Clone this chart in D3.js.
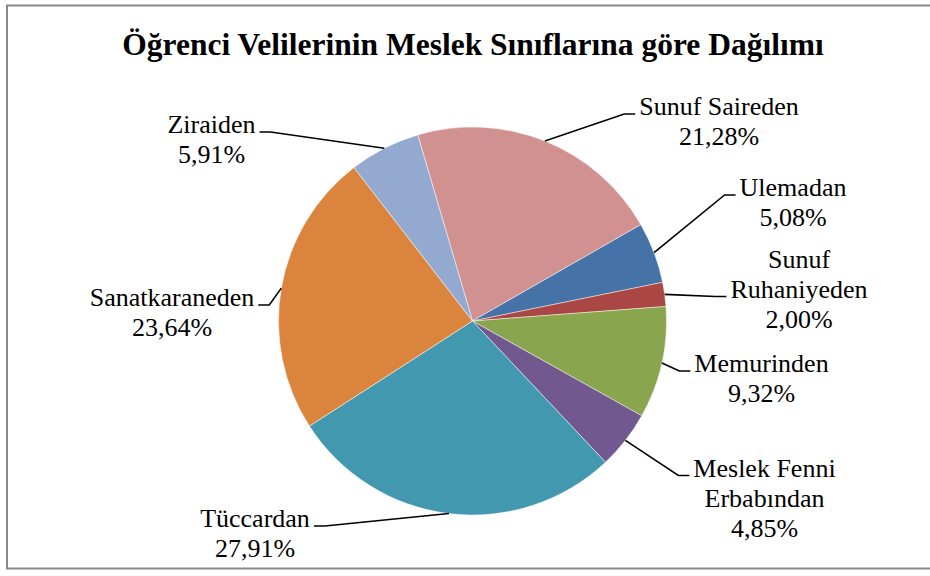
<!DOCTYPE html>
<html>
<head>
<meta charset="utf-8">
<script src="https://cdn.jsdelivr.net/npm/d3@7"></script>
<style>
  html, body { margin: 0; padding: 0; background: #fff; }
  svg { display: block; }
</style>
</head>
<body>
<svg id="chart" width="930" height="576"></svg>
<script>
// Occupational distribution of students' parents (percent)
const categories = [
  "Sunuf Saireden",
  "Ulemadan",
  "Sunuf Ruhaniyeden",
  "Memurinden",
  "Meslek Fenni Erbabından",
  "Tüccardan",
  "Sanatkaraneden",
  "Ziraiden"
];
const values = [21.28, 5.08, 2.00, 9.32, 4.85, 27.91, 23.64, 5.91];
const colors = ["#D29191", "#4572A7", "#AA4643", "#89A54E", "#71588F", "#4198AF", "#DB843D", "#93A9CF"];
const title = "Öğrenci Velilerinin Meslek Sınıflarına göre Dağılımı";

// Label placement: centre x, first baseline, side of the leader, line the leader attaches to, wrap width
const labelLayout = [
  { x: 719,   y: 115,   side: "left",  anchor: 0, wrap: 200 },
  { x: 793,   y: 196,   side: "left",  anchor: 0, wrap: 160 },
  { x: 799,   y: 267.5, side: "left",  anchor: 1, wrap: 150 },
  { x: 761.5, y: 372,   side: "left",  anchor: 0, wrap: 160 },
  { x: 764.5, y: 476.5, side: "left",  anchor: 0, wrap: 150 },
  { x: 255,   y: 527,   side: "right", anchor: 0, wrap: 160 },
  { x: 172,   y: 306,   side: "right", anchor: 0, wrap: 200 },
  { x: 211.5, y: 133,   side: "right", anchor: 0, wrap: 160 }
];

const W = 930, H = 576;
const cx = 472.5, cy = 321, R = 194;
const fontFamily = "'Liberation Serif', 'Times New Roman', serif";
const labelSize = 26, lineGap = 30;

const svg = d3.select("#chart");

// chart frame
svg.append("rect")
  .attr("x", 7).attr("y", 5.5)
  .attr("width", 940).attr("height", 563)
  .attr("fill", "#fff")
  .attr("stroke", "#888").attr("stroke-width", 2);

// title
svg.append("text")
  .attr("x", 473).attr("y", 55)
  .attr("text-anchor", "middle")
  .attr("font-family", fontFamily)
  .attr("font-weight", "bold")
  .attr("font-size", 31.5)
  .attr("fill", "#000")
  .text(title);

const data = categories.map((c, i) => ({ name: c, value: values[i], color: colors[i], layout: labelLayout[i] }));

const pie = d3.pie()
  .sort(null)
  .value(d => d.value)
  .startAngle(-16.4 * Math.PI / 180)
  .endAngle((360 - 16.4) * Math.PI / 180);

const arcs = pie(data);
const arc = d3.arc().innerRadius(0).outerRadius(R);

const g = svg.append("g").attr("transform", `translate(${cx},${cy})`);

g.selectAll("path.slice")
  .data(arcs)
  .join("path")
  .attr("class", "slice")
  .attr("d", arc)
  .attr("fill", d => d.data.color)
  .attr("stroke", "#fff")
  .attr("stroke-width", 0.6)
  .attr("stroke-opacity", 0.8);

const fmt = v => d3.format(".2f")(v).replace(".", ",") + "%";

// measuring helper for wrapping names
const measure = svg.append("text")
  .attr("font-family", fontFamily)
  .attr("font-size", labelSize)
  .attr("visibility", "hidden");
function textWidth(s) {
  measure.text(s);
  return measure.node().getComputedTextLength();
}
function wrap(name, maxW) {
  const words = name.split(" ");
  const lines = [];
  let cur = "";
  words.forEach(w => {
    const test = cur ? cur + " " + w : w;
    if (cur && textWidth(test) > maxW) { lines.push(cur); cur = w; }
    else cur = test;
  });
  if (cur) lines.push(cur);
  return lines;
}

const labels = svg.append("g");
const leaders = svg.append("g");

arcs.forEach(a => {
  const L = a.data.layout;
  const lines = wrap(a.data.name, L.wrap).concat([fmt(a.data.value)]);
  const t = labels.append("text")
    .attr("font-family", fontFamily)
    .attr("font-size", labelSize)
    .attr("fill", "#000")
    .attr("text-anchor", "middle");
  lines.forEach((ln, i) => {
    t.append("tspan").attr("x", L.x).attr("y", L.y + i * lineGap).text(ln);
  });

  // leader line: arc mid-angle point -> knee -> next to the label
  const mid = (a.startAngle + a.endAngle) / 2;
  const px = cx + R * Math.sin(mid);
  const py = cy - R * Math.cos(mid);
  const w = textWidth(lines[L.anchor]);
  const ly = L.y + L.anchor * lineGap - 1;
  const dir = L.side === "left" ? -1 : 1;
  const sx = L.x + dir * (w / 2 + 4);
  const kx = sx + dir * 11;
  leaders.append("path")
    .attr("d", d3.line()([[sx, ly], [kx, ly], [px, py]]))
    .attr("fill", "none")
    .attr("stroke", "#000")
    .attr("stroke-width", 1.6);
});

measure.remove();
</script>
</body>
</html>
